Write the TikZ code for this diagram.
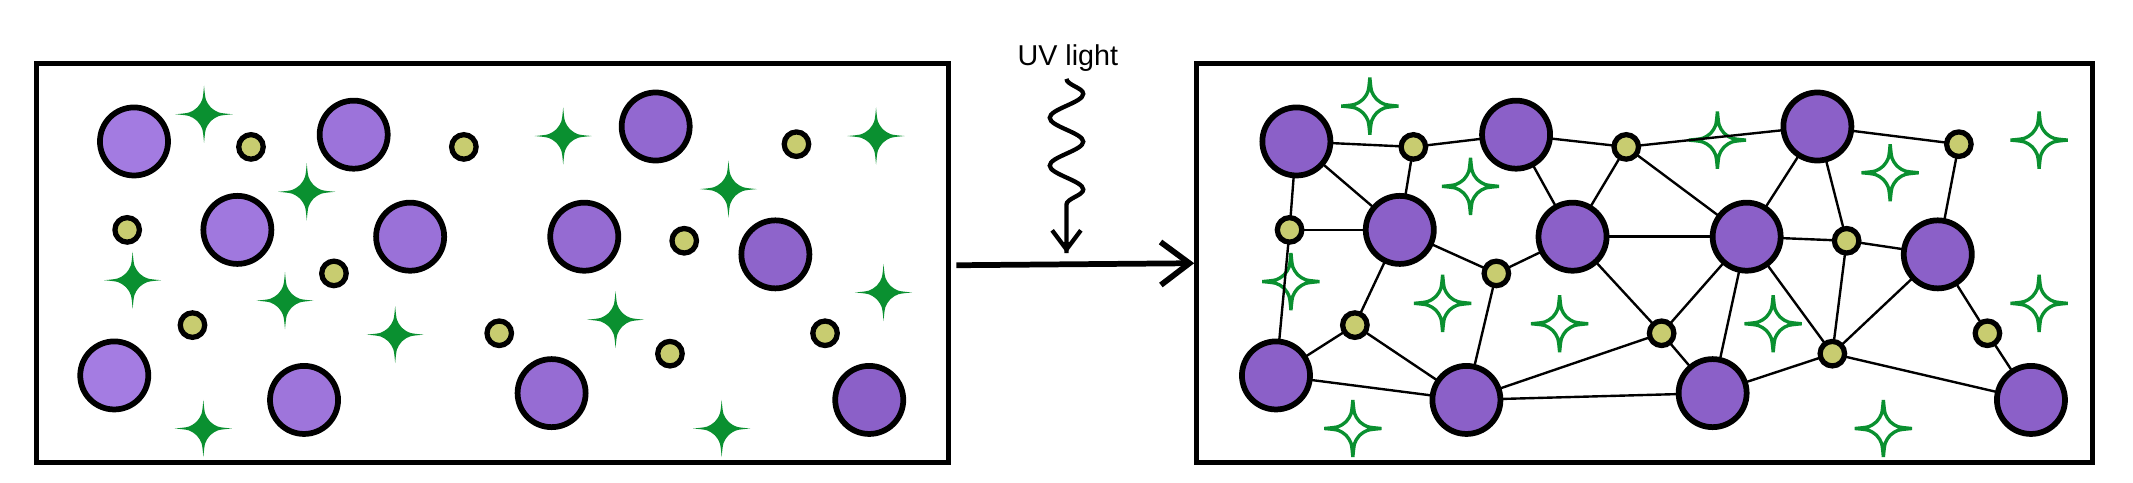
\documentclass[tikz,border=0pt]{standalone}
\usepackage{fontspec}
\setmainfont{Liberation Sans}
\usetikzlibrary{decorations.pathmorphing,arrows.meta}
\definecolor{purp}{HTML}{8B60C8}
\definecolor{purpl}{HTML}{A47CE2}
\definecolor{yel}{HTML}{C8CC70}
\definecolor{grn}{HTML}{0A9030}
\begin{document}
\begin{tikzpicture}[x=0.01cm,y=-0.01cm,
 big/.style={circle,draw=black,line width=1.2pt,minimum size=0.5cm,inner sep=0},
 bigr/.style={circle,draw=black,line width=1.2pt,minimum size=0.5cm,inner sep=0,fill=purp},
 sm/.style={circle,draw=black,line width=1.1pt,minimum size=0.18cm,inner sep=0,fill=yel},
 box/.style={draw=black,line width=1.1pt},
 edge/.style={draw=black,line width=0.5pt},
 star4/.pic={\path[pic actions,line join=miter] (0,-21) .. controls (1,-10) .. (5,-5) .. controls (10,-1) .. (21,0) .. controls (10,1) .. (5,5) .. controls (1,10) .. (0,21) .. controls (-1,10) .. (-5,5) .. controls (-10,1) .. (-21,0) .. controls (-10,-1) .. (-5,-5) .. controls (-1,-10) .. (0,-21) -- cycle;},
 fst/.style={fill=grn,draw=none},
 ost/.style={draw=grn,line width=0.7pt,fill=white}]
\useasboundingbox (0,0) rectangle (1568,355);
\node[box,minimum width=6.7cm,minimum height=2.93cm,inner sep=0] (L) at (362,193.5) {};
\node[box,minimum width=6.58cm,minimum height=2.93cm,inner sep=0] (R) at (1209,193.5) {};
% left panel
\foreach \x/\y in {150/84,414/100,644/100,225.5/141,535.5/139,97.5/206,209.5/221,649.5/215,290.5/246,452.5/235,149.5/315,530.5/315}
  \pic[fst] at (\x,\y) {star4};
\foreach \n/\x/\y in {l1/98.5/104,l2/260/99,l3/482/93,l4/174.5/169,l5/301.5/174,l6/429.5/174,l7/570/187,l8/84/276,l9/223.5/294,l10/405.5/289,l11/639/294}
  {\pgfmathtruncatemacro\p{100-int((\x-80)/5.6)}
   \node[big,fill=purpl!\p!purp] (\n) at (\x,\y) {};}
\foreach \n/\x/\y in {s1/184.5/108,s2/341/108,s3/585.5/106,s4/93.5/169,s5/503/177,s6/245.5/201,s7/141.5/239,s8/367/245,s9/492.5/260,s10/606.5/245}
  \node[sm] (\n) at (\x,\y) {};
% right panel stars
\foreach \x/\y in {1007/78,1081/137,1262.5/103,1389.5/127,1499/103,949/207,1060.5/223,1146.5/238,1303.5/238,1499/223,994.5/315,1384.5/315}
  \pic[ost] at (\x,\y) {star4};
\foreach \n/\x/\y in {A/953/104,B/1114.5/99,C/1336/93,D/1029/169,E/1156/174,F/1284/174,G/1424.5/187,H/938/276,I/1078/294,J/1259/289,K/1493/294}
  \coordinate (\n) at (\x,\y);
\foreach \n/\x/\y in {a/1039/108,b/1195.5/108,c/1440/106,d/948/169,e/1357.5/177,f/1100/201,g/996/239,h/1221.5/245,i/1347/260,j/1461/245}
  \coordinate (\n) at (\x,\y);
\foreach \u/\v in {A/a,a/B,B/b,b/C,C/c,A/D,a/D,A/d,d/D,d/H,B/E,b/E,b/F,C/F,C/e,c/G,D/f,f/E,D/g,g/H,g/I,f/I,E/F,F/e,e/G,E/h,h/F,h/J,F/J,F/i,e/i,G/i,i/J,i/K,G/j,j/K,H/I,I/h,I/J}
  \draw[edge] (\u) -- (\v);
\foreach \n in {A,B,C,D,E,F,G,H,I,J,K}
  \node[bigr] (n\n) at (\n) {};
\foreach \n in {a,b,c,d,e,f,g,h,i,j}
  \node[sm] (n\n) at (\n) {};
% arrow and UV
\coordinate (as) at (703,195);
\draw[line width=1.2pt,-{Straight Barb[length=6pt,width=9pt,line width=1.2pt]}] (as) -- (R.west);
\node[font=\fontsize{6}{7}\selectfont,inner sep=0] (uv) at (785,43) {UV light};
\coordinate (ws) at (784,58);
\coordinate (we) at (784,186);
\draw[line width=0.9pt,decorate,decoration={snake,amplitude=3.5,segment length=10,post length=6pt}] (ws) -- (we);
\draw[line width=0.9pt,-{Straight Barb[length=4pt,width=6pt]}] (784,178) -- (we);
\end{tikzpicture}
\end{document}
